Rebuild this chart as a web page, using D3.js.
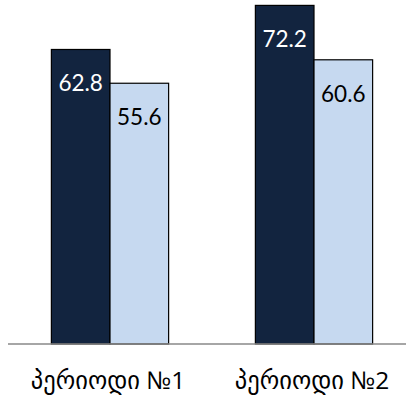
<!DOCTYPE html>
<html>
<head>
<meta charset="utf-8">
<script src="https://cdn.jsdelivr.net/npm/d3@7"></script>
<style>
  html, body { margin: 0; padding: 0; background: #fff; }
  svg { display: block; }
</style>
</head>
<body>
<svg id="chart" width="406" height="405"></svg>
<script>
// Two periods, two series each
const categories = ["პერიოდი №1", "პერიოდი №2"];
const seriesNames = ["s1", "s2"];
const series1 = [62.8, 72.2];
const series2 = [55.6, 60.6];

const colors = { s1: "#12243f", s2: "#c6d9f0" };
const labelColors = { s1: "#ffffff", s2: "#000000" };

const width = 406, height = 405;
const baseline = 344;

const svg = d3.select("#chart");

const x0 = d3.scaleBand()
  .domain(categories)
  .range([8, 416])
  .paddingInner(0)
  .paddingOuter(0);

const x1 = d3.scaleBand()
  .domain(seriesNames)
  .range([0, x0.bandwidth()])
  .paddingInner(0)
  .paddingOuter(0.74);

const y = d3.scaleLinear()
  .domain([0, 73.35])
  .range([baseline, 0]);

const rows = categories.map((c, i) => ({
  cat: c,
  values: [
    { key: "s1", value: series1[i] },
    { key: "s2", value: series2[i] }
  ]
}));

const groups = svg.selectAll("g.group")
  .data(rows)
  .join("g")
  .attr("class", "group")
  .attr("transform", d => `translate(${x0(d.cat)},0)`);

groups.selectAll("rect")
  .data(d => d.values)
  .join("rect")
  .attr("x", d => x1(d.key))
  .attr("y", d => y(d.value))
  .attr("width", x1.bandwidth())
  .attr("height", d => baseline - y(d.value))
  .attr("fill", d => colors[d.key])
  .attr("stroke", "#000")
  .attr("stroke-width", 1.2);

groups.selectAll("text.val")
  .data(d => d.values)
  .join("text")
  .attr("class", "val")
  .attr("x", d => x1(d.key) + x1.bandwidth() / 2)
  .attr("y", d => y(d.value) + 42)
  .attr("text-anchor", "middle")
  .attr("font-family", "Lato, 'Open Sans', sans-serif")
  .attr("font-size", 22.5)
  .attr("fill", d => labelColors[d.key])
  .text(d => d.value.toFixed(1));

// Category axis
const xAxis = d3.axisBottom(x0).tickSize(0).tickPadding(0);
const axisG = svg.append("g")
  .attr("transform", `translate(0,${baseline})`)
  .call(xAxis);
axisG.select(".domain").remove();
axisG.append("line")
  .attr("x1", 8).attr("x2", width)
  .attr("y1", 0).attr("y2", 0)
  .attr("stroke", "#898989")
  .attr("stroke-width", 1.5);
axisG.selectAll(".tick text")
  .attr("dy", 0)
  .attr("y", 45)
  .attr("dx", -2)
  .attr("font-family", "'Open Sans', 'DejaVu Sans', sans-serif")
  .attr("font-size", 24.5)
  .attr("fill", "#000");
</script>
</body>
</html>
